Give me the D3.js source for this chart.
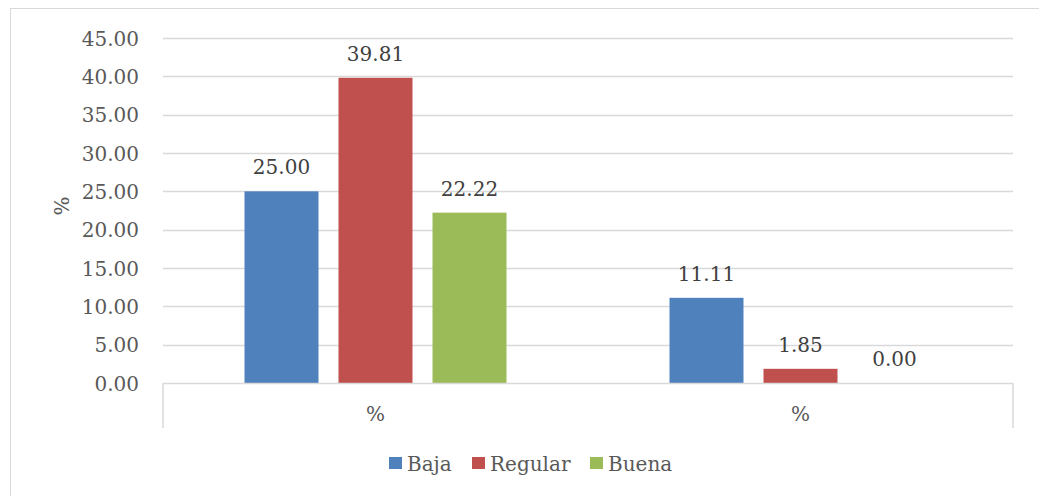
<!DOCTYPE html>
<html><head><meta charset="utf-8">
<script src="https://cdn.jsdelivr.net/npm/d3@7"></script>
<style>body{margin:0;background:#fff}svg{display:block}</style>
</head><body>
<script>
const categories = ["%", "%"];
const seriesNames = ["Baja", "Regular", "Buena"];
const baja = [25.00, 11.11];
const regular = [39.81, 1.85];
const buena = [22.22, 0.00];
const yTicks = [0, 5, 10, 15, 20, 25, 30, 35, 40, 45];
const colors = ["#4F81BD", "#C0504D", "#9BBB59"];

(function () {
const W = 1039, H = 496;
const font = "'DejaVu Serif', serif";
const fs = 20;
const svg = d3.select("body").append("svg").attr("width", W).attr("height", H);

svg.append("rect").attr("x", 10.5).attr("y", 8.5).attr("width", 1040).attr("height", 500)
  .attr("fill", "none").attr("stroke", "#D9D9D9").attr("stroke-width", 1);

const pLeft = 163, pRight = 1013, pTop = 38, pBottom = 383;
const x0 = d3.scaleBand().domain(d3.range(categories.length)).range([pLeft, pRight]).paddingInner(0).paddingOuter(0);
const y = d3.scaleLinear().domain([0, 45]).range([pBottom, pTop]);
const bandW = x0.bandwidth();
const barW = 74, gap = 20;
const x1 = d3.scaleBand().domain(seriesNames).range([bandW/2 - (3*barW+2*gap)/2, bandW/2 + (3*barW+2*gap)/2]).paddingInner(gap/(barW+gap)).paddingOuter(0);

svg.append("g").selectAll("line").data(yTicks.filter(d => d > 0)).join("line")
  .attr("x1", pLeft).attr("x2", pRight)
  .attr("y1", d => Math.round(y(d)) + 0.5).attr("y2", d => Math.round(y(d)) + 0.5)
  .attr("stroke", "#D9D9D9").attr("stroke-width", 1.5);

const yAxis = d3.axisLeft(y).tickValues(yTicks).tickFormat(d3.format(".2f")).tickSize(0).tickPadding(0);
const gy = svg.append("g").attr("transform", `translate(139,0)`).call(yAxis);
gy.select(".domain").remove();
gy.selectAll("text").attr("font-family", font).attr("font-size", fs).attr("fill", "#595959").attr("dy", "0.35em");

svg.append("text").attr("transform", `translate(62,206) rotate(-90)`).attr("text-anchor", "middle")
  .attr("dy", "0.35em").attr("font-family", font).attr("font-size", fs).attr("fill", "#595959").text("%");

const data = [baja, regular, buena];
const groups = svg.append("g").selectAll("g").data(categories).join("g")
  .attr("transform", (d, i) => `translate(${x0(i)},0)`);

groups.each(function(c, ci) {
  const g = d3.select(this);
  seriesNames.forEach((s, si) => {
    const v = data[si][ci];
    g.append("rect").attr("x", x1(s)).attr("width", x1.bandwidth())
      .attr("y", y(v)).attr("height", pBottom - y(v)).attr("fill", colors[si]);
    g.append("text").attr("x", x1(s) + x1.bandwidth()/2).attr("y", y(v) - 17)
      .attr("text-anchor", "middle").attr("font-family", font).attr("font-size", fs)
      .attr("fill", "#404040").text(d3.format(".2f")(v));
  });
});

const xAxis = svg.append("g");
xAxis.append("line").attr("x1", pLeft).attr("x2", pRight).attr("y1", pBottom + 0.5).attr("y2", pBottom + 0.5)
  .attr("stroke", "#D9D9D9").attr("stroke-width", 1.5);
[pLeft, pRight].forEach(xx => {
  xAxis.append("line").attr("x1", xx).attr("x2", xx).attr("y1", pBottom).attr("y2", 428)
    .attr("stroke", "#D9D9D9").attr("stroke-width", 1.5);
});
xAxis.selectAll("text").data(categories).join("text")
  .attr("x", (d, i) => x0(i) + bandW/2).attr("y", 421).attr("text-anchor", "middle")
  .attr("font-family", font).attr("font-size", fs).attr("fill", "#595959").text(d => d);

const legend = svg.append("g");
const items = [{n: "Baja", x: 389}, {n: "Regular", x: 472}, {n: "Buena", x: 590}];
items.forEach((it, i) => {
  legend.append("rect").attr("x", it.x).attr("y", 457).attr("width", 13).attr("height", 12).attr("fill", colors[i]);
  legend.append("text").attr("x", it.x + 18).attr("y", 471).attr("font-family", font).attr("font-size", fs)
    .attr("fill", "#595959").text(it.n);
});
})();
</script>
</body></html>
